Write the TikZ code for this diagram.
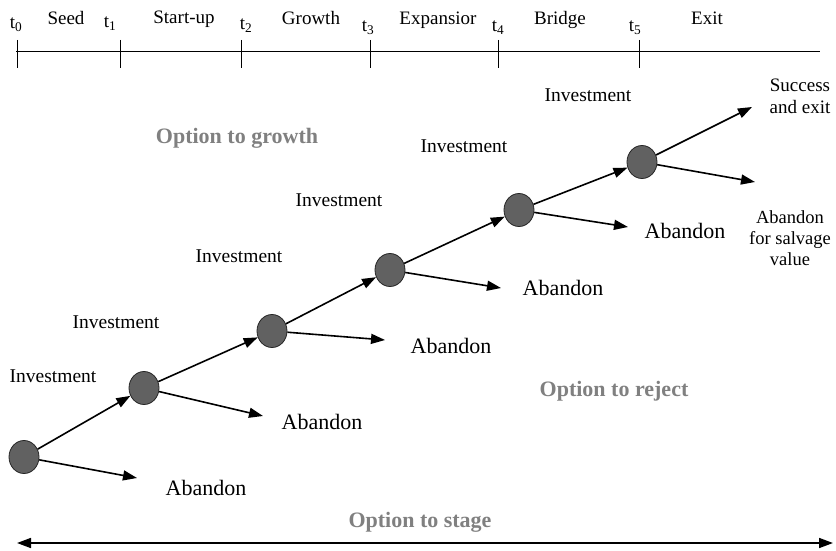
\documentclass[tikz,border=0pt]{standalone}
\usepackage{fontspec}
\setmainfont{Liberation Serif}
\usetikzlibrary{shapes.geometric}
\usetikzlibrary{arrows.meta}
\tikzset{
greyvertex/.style={ellipse, draw=black!85,fill=black!62,thick, inner sep=0pt, minimum width= 30pt, minimum height = 33pt},
timetext/.style={font=\fontsize{19}{22}\selectfont, inner sep=0pt, anchor=base},
investtext/.style={font=\fontsize{19.5}{22}\selectfont, inner sep=0pt, anchor=base},
abandontext/.style={font=\fontsize{22}{25}\selectfont, inner sep=0pt, anchor=base},
endtext/.style={font=\fontsize{19}{21.5}\selectfont, inner sep=0pt, anchor=north, align=center},
optiontext/.style={font=\bfseries\fontsize{22}{25}\selectfont, text=black!50, inner sep=0pt, anchor=base},
treearrow/.style={line width=1.6pt, -{Triangle[length=14pt,width=10pt]}},
}

\begin{document}
\begin{tikzpicture}[x=1pt,y=-1pt]
    \useasboundingbox (0,0) rectangle (836,551);
    % stages on the time line
    \coordinate (tl) at (16,51);
    \coordinate (tr) at (820,51);
    \draw[thin,black] (tl) -- (tr);
    \foreach \x in {17,120,241,370,498,639} \draw[thin,black] (\x,40) -- (\x,68);
    \node[timetext] at (16,29) (t0) {t\textsubscript{0}};
    \node[timetext] at (66,25) (seed) {Seed};
    \node[timetext] at (110,28) (t1) {t\textsubscript{1}};
    \node[timetext] at (184,24) (startup) {Start-up};
    \node[timetext] at (246,30) (t2) {t\textsubscript{2}};
    \node[timetext] at (311,25) (growth) {Growth};
    \node[timetext] at (368,32) (t3) {t\textsubscript{3}};
    \node[timetext] at (438,25) (expansion) {Expansior};
    \node[timetext] at (498,32) (t4) {t\textsubscript{4}};
    \node[timetext] at (560,25) (bridge) {Bridge};
    \node[timetext] at (635,32) (t5) {t\textsubscript{5}};
    \node[timetext] at (707,25) (exit) {Exit};
    % decision nodes
    \node[greyvertex] at (24,457) (c0) {};
    \node[greyvertex] at (144,388) (c1) {};
    \node[greyvertex] at (272,331) (c2) {};
    \node[greyvertex] at (390,270) (c3) {};
    \node[greyvertex] at (519,210) (c4) {};
    \node[greyvertex] at (642,162) (c5) {};
    \coordinate (a0) at (137,478);
    \coordinate (a1) at (263,416);
    \coordinate (a2) at (385,340);
    \coordinate (a3) at (501,288);
    \coordinate (a4) at (628,227);
    \coordinate (succ) at (752,107);
    \coordinate (salv) at (755,182);
    \draw[treearrow] (c0) to (c1);
    \draw[treearrow] (c1) to (c2);
    \draw[treearrow] (c2) to (c3);
    \draw[treearrow] (c3) to (c4);
    \draw[treearrow] (c4) to (c5);
    \draw[treearrow] (c0) to (a0);
    \draw[treearrow] (c1) to (a1);
    \draw[treearrow] (c2) to (a2);
    \draw[treearrow] (c3) to (a3);
    \draw[treearrow] (c4) to (a4);
    \draw[treearrow] (c5) to (succ);
    \draw[treearrow] (c5) to (salv);
    \node[investtext] at (53,382) (i0) {Investment};
    \node[investtext] at (116,328) (i1) {Investment};
    \node[investtext] at (239,262) (i2) {Investment};
    \node[investtext] at (339,206) (i3) {Investment};
    \node[investtext] at (464,152) (i4) {Investment};
    \node[investtext] at (588,102) (i5) {Investment};
    \node[abandontext] at (206,495) (b0) {Abandon};
    \node[abandontext] at (322,429) (b1) {Abandon};
    \node[abandontext] at (451,353) (b2) {Abandon};
    \node[abandontext] at (563,295) (b3) {Abandon};
    \node[abandontext] at (685,238) (b4) {Abandon};
    \node[endtext] at (800,79) (success) {Success\\and exit};
    \node[endtext,font=\fontsize{18.5}{21}\selectfont] at (790,210) (salvage) {Abandon\\for salvage\\value};
    % options
    \node[optiontext] at (237,143) (ogrowth) {Option to growth};
    \node[optiontext] at (614,396) (oreject) {Option to reject};
    \node[optiontext] at (420,527) (ostage) {Option to stage};
    \coordinate (sl) at (17,543);
    \coordinate (sr) at (833,543);
    \draw[line width=1.6pt,{Triangle[length=14pt,width=10pt]}-{Triangle[length=14pt,width=10pt]}] (sl) -- (sr);
\end{tikzpicture}
\end{document}
